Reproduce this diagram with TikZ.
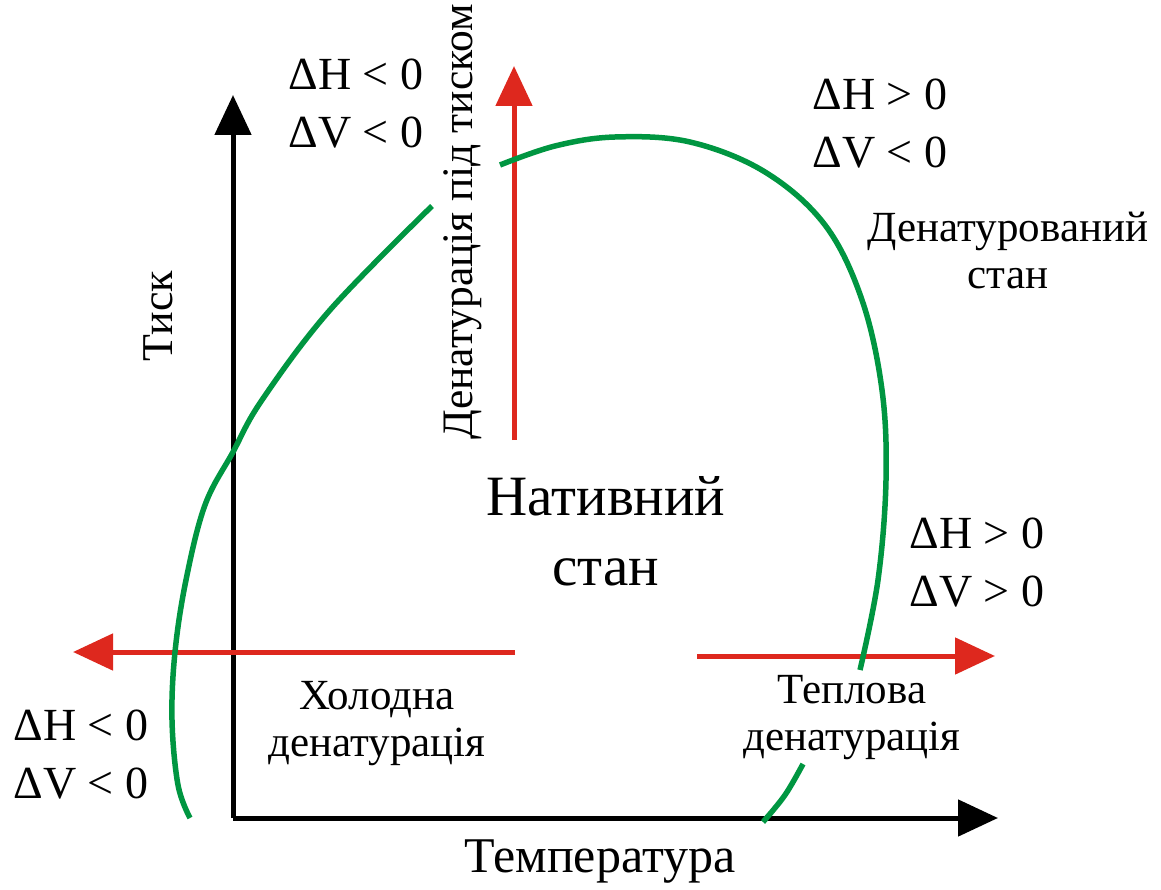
\documentclass[tikz,border=0pt]{standalone}
\usepackage{fontspec}
\setmainfont{Liberation Serif}
\usetikzlibrary{arrows.meta}
\definecolor{curvegreen}{RGB}{0,150,65}
\definecolor{arrowred}{RGB}{222,40,30}
\begin{document}
\begin{tikzpicture}[x=1pt,y=-1pt,
  axis/.style={line width=5pt,black,-{Triangle[length=40pt,width=36pt]}},
  redarrow/.style={line width=5pt,arrowred,-{Triangle[length=40pt,width=36pt]}},
  greencurve/.style={line width=5.5pt,curvegreen},
  lbl/.style={align=center,inner sep=0pt,font=\fontsize{43}{47}\selectfont},
  dlbl/.style={align=center,inner sep=0pt,font=\fontsize{46}{58}\selectfont}]
\useasboundingbox (0,0) rectangle (1161,890);
% coordinates
\coordinate (O) at (233,818);
\coordinate (Ytip) at (233,95);
\coordinate (Xtip) at (998,818);
\coordinate (Lstart) at (515,652);
\coordinate (Ltip) at (73,652);
\coordinate (Rstart) at (697,656);
\coordinate (Rtip) at (995,656);
\coordinate (Ustart) at (514,440);
\coordinate (Utip) at (514,66);
% axes
\draw[axis] (O) -- (Ytip);
\draw[axis] (O) -- (Xtip);
% red arrows
\draw[redarrow] (Lstart) -- (Ltip);
\draw[redarrow] (Rstart) -- (Rtip);
\draw[redarrow] (Ustart) -- (Utip);
% green curves
\draw[greencurve] plot[smooth,tension=0.6] coordinates {(432,206) (330,310) (262,400) (233,452) (205,505) (186,580) (175,652) (172,720) (178,785) (190,818)};
\draw[greencurve] plot[smooth,tension=0.6] coordinates {(500,165) (555,146) (615,137) (690,142) (765,172) (825,225) (862,300) (882,390) (886,480) (878,580) (860,670)};
\draw[greencurve] plot[smooth,tension=0.6] coordinates {(803,764) (785,795) (763,822)};
% labels
\node[dlbl] (tl) at (356,104) {ΔH < 0\\ΔV < 0};
\node[dlbl] (tr) at (880,124) {ΔH > 0\\ΔV < 0};
\node[dlbl] (rr) at (977,563) {ΔH > 0\\ΔV > 0};
\node[dlbl] (bl) at (81,755) {ΔH < 0\\ΔV < 0};
\node[lbl] (den) at (1008,250) {Денатурований\\стан};
\node[align=center,inner sep=0pt,font=\fontsize{57}{70}\selectfont] (nat) at (606,531) {Нативний\\стан};
\node[lbl] (cold) at (377,724) {Холодна\\денатурація};
\node[lbl] (heat) at (852,718) {Теплова\\денатурація};
\node[inner sep=0pt,font=\fontsize{50}{54}\selectfont] (temp) at (600,862) {Температура};
\node[inner sep=0pt,rotate=90,font=\fontsize{44}{48}\selectfont] (press) at (158,316) {Тиск};
\node[inner sep=0pt,rotate=90,font=\fontsize{43.5}{48}\selectfont] (pden) at (463,222) {Денатурація під тиском};
\end{tikzpicture}
\end{document}
